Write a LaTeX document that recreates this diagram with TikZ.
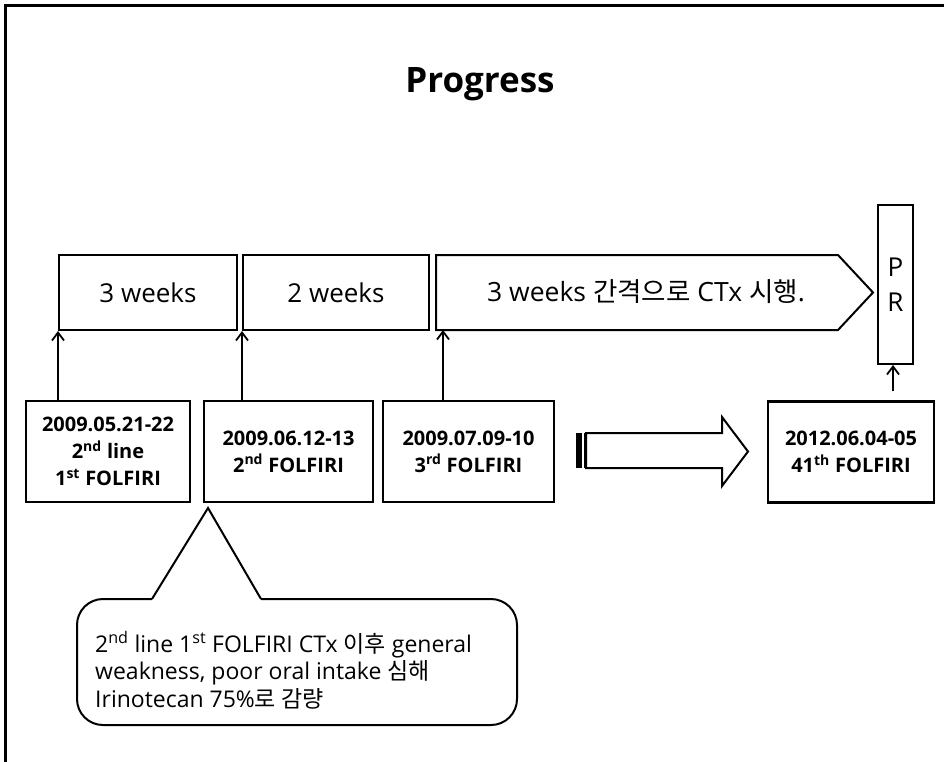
\documentclass[tikz,border=0pt]{standalone}
\usepackage{fontspec}
\setmainfont{Open Sans}
\newfontfamily\kr{Noto Sans CJK KR}
\usetikzlibrary{calc,arrows.meta}

\begin{document}
\begin{tikzpicture}[x=1pt,y=-1pt,
  wkbox/.style={draw,line width=2pt,minimum height=75,inner sep=0,font=\fontsize{26}{30}\selectfont},
  datebox/.style={draw,line width=2.4pt,minimum height=101,inner sep=0,align=center,font=\fontsize{20}{27}\selectfont\bfseries},
  up/.style={-{Straight Barb[length=8pt,width=12pt]},line width=1.8pt}]
  \useasboundingbox (0,0) rectangle (944,761);
  \draw[line width=3pt] (5,770) -- (5,5) -- (950,5);
  \node[font=\fontsize{35}{40}\selectfont\bfseries] (title) at (480,84) {Progress};

  % intervals
  \node[wkbox,minimum width=178] (wkA) at (148,292.5) {3 weeks};
  \node[wkbox,minimum width=186] (wkB) at (336,292.5) {2 weeks};
  \draw[line width=2pt] (436,255) -- (838,255) -- (873,292.5) -- (838,330) -- (436,330) -- cycle;
  \node[font=\fontsize{26.5}{30}\selectfont] (cta) at (646,292) {3 weeks {\kr 간격으로} CTx {\kr 시행}.};
  \coordinate (ctaBase) at (443,330);
  \node[draw,line width=2pt,minimum width=35,minimum height=159,inner sep=0,align=center,
        font=\fontsize{26}{35}\selectfont] (pr) at (895.5,284.5) {P\\R};

  % cycles
  \node[datebox,minimum width=164] (dA) at (108,451.5) {2009.05.21-22\\2\textsuperscript{nd} line\\1\textsuperscript{st} FOLFIRI};
  \node[datebox,minimum width=169] (dB) at (288.5,451.5) {2009.06.12-13\\2\textsuperscript{nd} FOLFIRI};
  \node[datebox,minimum width=171] (dC) at (468.5,451.5) {2009.07.09-10\\3\textsuperscript{rd} FOLFIRI};
  \node[datebox,minimum width=166] (dD) at (851,452) {2012.06.04-05\\41\textsuperscript{th} FOLFIRI};

  \draw[up] (dA.north -| wkA.south west) -- (wkA.south west);
  \draw[up] (dB.north -| wkB.south west) -- (wkB.south west);
  \draw[up] (dC.north -| ctaBase) -- (ctaBase);
  \draw[up] ($(dD.north -| pr.south)+(-2.5,-9)$) -- ($(pr.south)+(-2.5,0)$);

  % big arrow
  \fill (576,433) rectangle (582,468);
  \fill (583.5,433) rectangle (586,468);
  \draw[line width=2pt] (586,433) -- (722,433) -- (722,417) -- (748,451.5) -- (722,486) -- (722,468) -- (586,468) -- cycle;

  % callout
  \draw[line width=2pt,rounded corners=26] (152,599) -- (77,599) -- (77,725) -- (517,725) -- (517,599) -- (261,599);
  \draw[line width=2pt] (152,599) -- (208,508) -- (261,599);
  \node[anchor=west,align=left,inner sep=0,font=\fontsize{23}{27.5}\selectfont] (note) at (95,670)
    {2\textsuperscript{nd} line 1\textsuperscript{st} FOLFIRI CTx {\kr 이후} general\\weakness, poor oral intake {\kr 심해}\\Irinotecan 75\%{\kr 로 감량}};
\end{tikzpicture}
\end{document}
